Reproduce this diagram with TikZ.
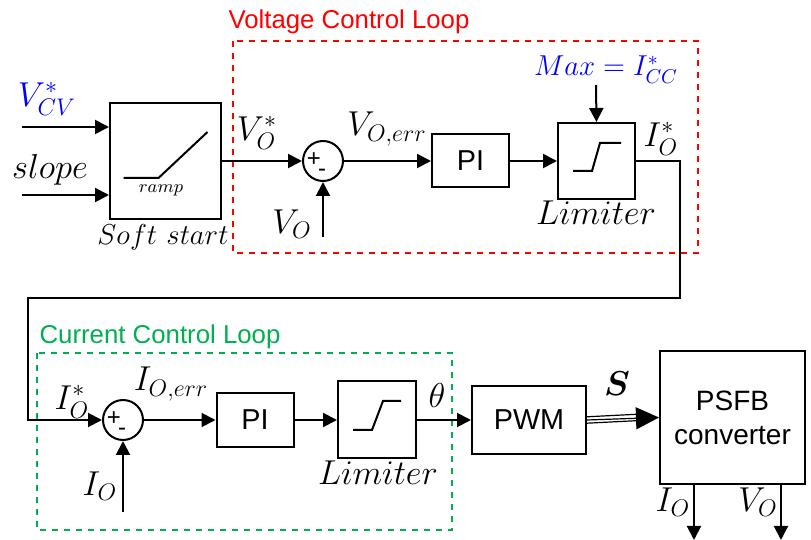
\documentclass[tikz,border=0pt]{standalone}
\usepackage{amsmath,bm}
\usepackage{fontspec}
\setsansfont{Liberation Sans}
\usepackage{tikz}
\usetikzlibrary{calc}
\usetikzlibrary{positioning}
\usetikzlibrary{arrows.meta}
\definecolor{vloop}{RGB}{255,0,0}
\definecolor{cloop}{RGB}{0,176,80}
\definecolor{refblue}{RGB}{0,0,255}
\tikzset{
	block/.style={
		draw, line width=1pt, inner sep=0pt,
		font=\sffamily\Large,
	},
	sumpt/.style={
		draw, circle, line width=1pt,
		minimum size=20pt, inner sep=0pt,
	},
	lbl/.style={font=\LARGE},
	looptitle/.style={font=\sffamily\fontsize{12.9}{15}\selectfont},
	loopbox/.style={dashed, line width=0.7pt},
}

\begin{document}
\begin{tikzpicture}[x=0.5pt, y=-0.5pt, line width=1pt, >={Triangle[length=7pt,width=7pt]}]
			\useasboundingbox (0,0) rectangle (811,540);

			% Loop frames
			\draw[loopbox, vloop] (233,41) rectangle (698,253);
			\node[looptitle, vloop] (vtitle) at (349,22) {Voltage Control Loop};
			\draw[loopbox, cloop] (37,353) rectangle (452,530);
			\node[looptitle, cloop] (ctitle) at (160,337) {Current Control Loop};

			% Blocks of the voltage loop
			\node[block, minimum width=55.5pt, minimum height=58pt] (soft) at (165.5,161) {};
			\node[sumpt] (sum1) at (323,161) {};
			\node[block, minimum width=38.5pt, minimum height=26.5pt] (pi1) at (470.5,161) {PI};
			\node[block, minimum width=38.5pt, minimum height=38pt] (lim1) at (596.5,161) {};

			% Blocks of the current loop
			\node[sumpt] (sum2) at (123,420) {};
			\node[block, minimum width=38.5pt, minimum height=27pt] (pi2) at (255,420) {PI};
			\node[block, minimum width=39pt, minimum height=38.5pt] (lim2) at (377,420) {};
			\node[block, minimum width=57pt, minimum height=34pt] (pwm) at (529,420) {PWM};
			\node[block, font=\sffamily\fontsize{14}{17}\selectfont, minimum width=72.5pt, minimum height=66.5pt, align=center] (psfb) at (732.5,417.5) {PSFB\\converter};

			% Symbols inside the blocks
			\draw ([shift={(-42,17)}]soft.center) -- ++(35,0) -- ++(49,-46);
			\node[font=\small] (ramp) at (161,190) {$ramp$};
			\draw ([shift={(-23.5,10)}]lim1.center) -- ++(19,0) -- ++(8,-28) -- ++(21,0);
			\draw ([shift={(-24,10)}]lim2.center) -- ++(19,0) -- ++(11,-29) -- ++(18,0);
			\node[font=\sffamily\large] (p1) at ([shift={(-9,-1)}]sum1.center) {+};
			\node[font=\sffamily\large] (m1) at ([shift={(-1,12)}]sum1.center) {-};
			\node[font=\sffamily\large] (p2) at ([shift={(-9,-1)}]sum2.center) {+};
			\node[font=\sffamily\large] (m2) at ([shift={(-1,12)}]sum2.center) {-};

			% Free ends
			\coordinate (vcv) at (22,127);
			\coordinate (slp) at (22,195);
			\coordinate (vo) at (323,237);
			\coordinate (max) at (596,85);
			\coordinate (c1) at (680,161);
			\coordinate (c2) at (680,298);
			\coordinate (c3) at (28,298);
			\coordinate (io) at (123,512);
			\coordinate (ioout) at (694,540);
			\coordinate (voout) at (781,540);

			% Voltage loop signals
			\draw[->] (vcv) -- (vcv -| soft.west);
			\draw[->] (slp) -- (slp -| soft.west);
			\draw[->] (soft.east) -- (sum1.west);
			\draw[->] (vo) -- (sum1.south);
			\draw[->] (sum1.east) -- (pi1.west);
			\draw[->] (pi1.east) -- (lim1.west);
			\draw[->] (max) -- (lim1.north);
			\draw[->] (lim1.east) -- (c1) -- (c2) -- (c3) |- (sum2.west);

			% Current loop signals
			\draw[->] (io) -- (sum2.south);
			\draw[->] (sum2.east) -- (pi2.west);
			\draw[->] (pi2.east) -- (lim2.west);
			\draw[->] (lim2.east) -- (pwm.west);
			\draw[-{Triangle[length=11.5pt,width=11pt]}, line width=0.6pt] (pwm.east) -- (psfb.west);
			\draw[line width=0.6pt] ([yshift=1.6pt]pwm.east) -- ([xshift=-11.5pt,yshift=1.6pt]psfb.west);
			\draw[line width=0.6pt] ([yshift=-1.6pt]pwm.east) -- ([xshift=-11.5pt,yshift=-1.6pt]psfb.west);
			\draw[->] (psfb.south -| ioout) -- (ioout);
			\draw[->] (psfb.south -| voout) -- (voout);

			% Labels
			\node[lbl, text=refblue] (vcvlbl) at (47,99) {$V_{CV}^*$};
			\node[lbl] (slplbl) at (50,170) {$slope$};
			\node[font=\Large] (softlbl) at (163,237) {$Soft\ start$};
			\node[lbl] (vreflbl) at (257,133) {$V_O^*$};
			\node[lbl] (vlbl) at (292,224) {$V_O$};
			\node[lbl] (verrlbl) at (387,129) {$V_{O,err}$};
			\node[font=\Large, text=refblue] (maxlbl) at (606,70) {$Max=I_{CC}^*$};
			\node[lbl] (lim1lbl) at (596,213) {$Limiter$};
			\node[lbl] (ireflbl) at (661,139) {$I_O^*$};
			\node[lbl] (iref2lbl) at (72,402) {$I_O^*$};
			\node[lbl] (ilbl) at (100,486) {$I_O$};
			\node[lbl] (ierrlbl) at (171,384) {$I_{O,err}$};
			\node[lbl] (lim2lbl) at (378,473) {$Limiter$};
			\node[lbl] (thlbl) at (437,396) {$\theta$};
			\node[lbl] (slbl) at (617,384) {$\bm{S}$};
			\node[lbl] (iolbl) at (673,502) {$I_O$};
			\node[lbl] (volbl) at (758,502) {$V_O$};
		\end{tikzpicture}
\end{document}
